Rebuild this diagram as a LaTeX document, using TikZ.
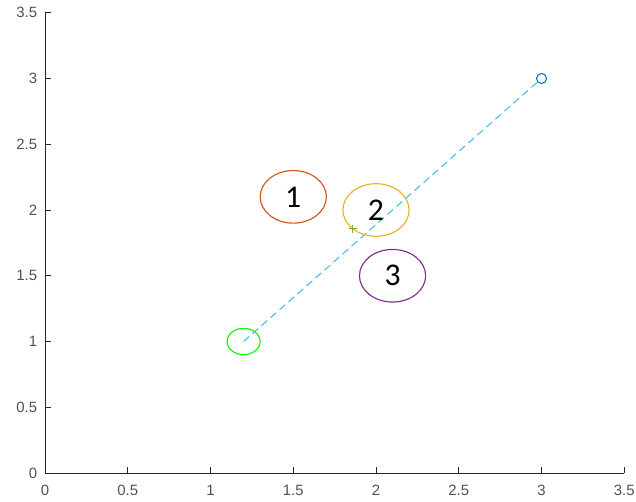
\documentclass[tikz,border=0pt]{standalone}
\usepackage{fontspec}
\setmainfont{Liberation Sans}
\newfontfamily\labelfont{Carlito}
\usetikzlibrary{shapes.geometric,positioning}

\definecolor{axisgray}{RGB}{38,38,38}
\definecolor{regred}{rgb}{0.85,0.325,0.098}
\definecolor{regyellow}{rgb}{0.929,0.694,0.125}
\definecolor{regpurple}{rgb}{0.494,0.184,0.556}
\definecolor{hitgreen}{rgb}{0.466,0.674,0.188}
\definecolor{pathcyan}{rgb}{0.301,0.745,0.933}
\definecolor{goalblue}{rgb}{0,0.447,0.741}

\begin{document}
\begin{tikzpicture}[x=3.31cm,y=2.63cm,
    region/.style={draw,ellipse,minimum width=1.324cm,minimum height=1.052cm,inner sep=0pt,line width=0.65pt,font=\labelfont\fontsize{18}{18}\selectfont},
    ticklab/.style={font=\fontsize{8.5}{8.5}\selectfont,text=axisgray!80,inner sep=0pt}]

    \useasboundingbox (-0.272,-0.2205) rectangle (3.571,3.597);

    % Axes
    \draw[axisgray,line width=0.55pt] (0,3.5) -- (0,0) -- (3.5,0);
    \foreach \v [count=\i] in {0,0.5,1,1.5,2,2.5,3,3.5} {
        \draw[axisgray,line width=0.55pt] (\v,0) -- ++(0,0.12cm);
        \draw[axisgray,line width=0.55pt] (0,\v) -- ++(0.12cm,0);
        \node[ticklab,below=0.24cm] (xlab\i) at (\v,0) {\v};
        \node[ticklab,left=0.15cm] (ylab\i) at (0,\v) {\v};
    }

    % Start and goal
    \node[draw=green,ellipse,minimum width=0.662cm,minimum height=0.526cm,inner sep=0pt,line width=0.65pt] (start) at (1.2,1) {};
    \node[draw=goalblue,circle,minimum size=0.2cm,inner sep=0pt,line width=0.6pt] (goal) at (3,3) {};

    % Path
    \draw[pathcyan,line width=0.65pt,dash pattern=on 0.15cm off 0.09cm] (start.center) -- (goal);

    % Regions
    \node[region,draw=regred] (reg1) at (1.5,2.1) {1};
    \node[region,draw=regyellow] (reg2) at (2,2) {2};
    \node[region,draw=regpurple] (reg3) at (2.1,1.5) {3};

    % Hit point
    \coordinate (hit) at (1.8586,1.8586);
    \draw[hitgreen,line width=0.6pt] ([xshift=-0.08cm]hit) -- ([xshift=0.08cm]hit);
    \draw[hitgreen,line width=0.6pt] ([yshift=-0.08cm]hit) -- ([yshift=0.08cm]hit);
\end{tikzpicture}
\end{document}
